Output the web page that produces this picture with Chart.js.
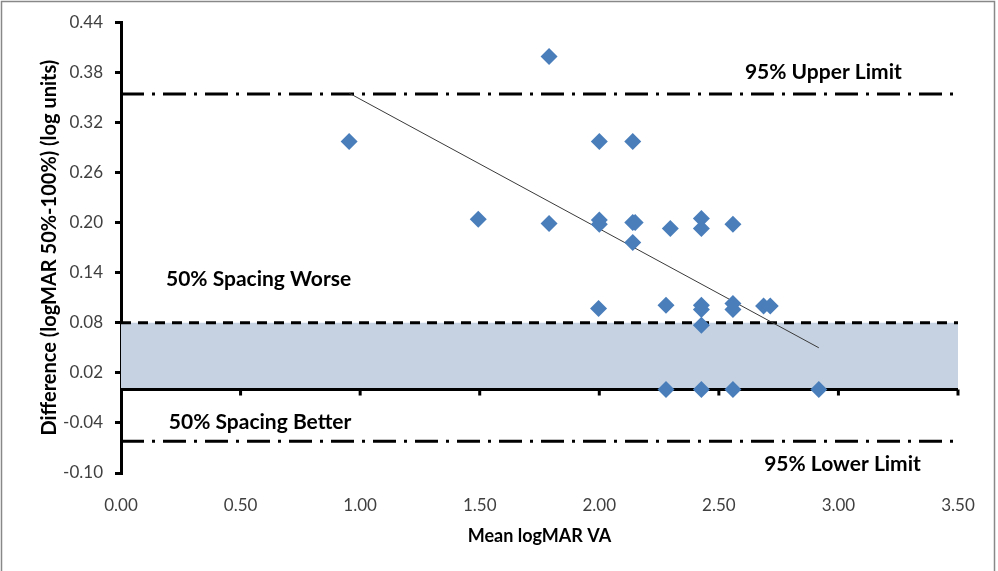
<!DOCTYPE html>
<html>
<head>
<meta charset="utf-8">
<script src="https://cdn.jsdelivr.net/npm/chart.js@4/dist/chart.umd.min.js"></script>
<style>
  html, body { margin: 0; padding: 0; background: #fff; }
  #wrap { width: 998px; height: 571px; }
</style>
</head>
<body>
<div id="wrap"><canvas id="ba-chart" width="998" height="571"></canvas></div>
<script>
// Bland-Altman data: mean of the two logMAR readings vs. their difference
const meanVA = [0.954, 1.79, 1.494, 1.79, 2.0, 2.0, 2.0, 2.14, 2.14, 2.15, 2.14, 2.297, 2.427, 2.427,
  2.559, 1.997, 2.279, 2.427, 2.427, 2.427, 2.559, 2.559, 2.687, 2.715, 2.279, 2.427, 2.559, 2.918];
const diffVA = [0.297, 0.399, 0.204, 0.199, 0.297, 0.203, 0.198, 0.297, 0.200, 0.200, 0.176, 0.193, 0.205, 0.193,
  0.198, 0.097, 0.101, 0.101, 0.096, 0.077, 0.103, 0.096, 0.100, 0.100, 0.000, 0.000, 0.000, 0.000];

// trend line end points
const trendX = [0.954, 2.918];
const trendY = [0.355, 0.050];

// limits of agreement and the spacing threshold
const upperLimit = 0.354;
const lowerLimit = -0.062;
const spacingCut = 0.08;

// text notes on the plot (value coordinates)
const noteText = ['95% Upper Limit', '50% Spacing Worse', '50% Spacing Better', '95% Lower Limit'];
const noteX = [2.937, 0.188, 0.20, 3.017];
const noteY = [0.380, 0.132, -0.039, -0.089];
const noteAlign = ['center', 'left', 'left', 'center'];

const FONT = 'Lato, "Open Sans", sans-serif';

function hLine(yVal) {
  return [{ x: 0, y: yVal }, { x: 3.5, y: yVal }];
}

const overlayPlugin = {
  id: 'overlay',
  beforeDraw(chart) {
    const ctx = chart.ctx;
    ctx.save();
    ctx.fillStyle = '#fff';
    ctx.fillRect(0, 0, chart.width, chart.height);
    ctx.restore();
  },
  afterDraw(chart) {
    const { ctx, scales: { x, y } } = chart;
    ctx.save();
    // small tick marks hanging below the zero line
    const y0 = y.getPixelForValue(0);
    ctx.strokeStyle = '#000';
    ctx.lineWidth = 3;
    x.ticks.forEach((t) => {
      if (t.value === 0) return;
      const px = x.getPixelForValue(t.value);
      ctx.beginPath();
      ctx.moveTo(px, y0);
      ctx.lineTo(px, y0 + 6);
      ctx.stroke();
    });
    // notes
    ctx.fillStyle = '#000';
    ctx.font = 'bold 21px ' + FONT;
    ctx.textBaseline = 'middle';
    noteText.forEach((txt, i) => {
      ctx.textAlign = noteAlign[i];
      ctx.fillText(txt, x.getPixelForValue(noteX[i]), y.getPixelForValue(noteY[i]));
    });
    // outer frame
    ctx.strokeStyle = '#888';
    ctx.lineWidth = 1.5;
    ctx.strokeRect(1.5, 1.5, 993, 620);
    ctx.restore();
  }
};

const ctx = document.getElementById('ba-chart').getContext('2d');

new Chart(ctx, {
  type: 'scatter',
  data: {
    datasets: [
      {
        data: meanVA.map((v, i) => ({ x: v, y: diffVA[i] })),
        pointStyle: 'rectRot',
        pointRadius: 8.5,
        backgroundColor: '#4a7ebb',
        borderColor: '#4a7ebb',
        borderWidth: 0,
        order: 0,
      },
      {
        data: trendX.map((v, i) => ({ x: v, y: trendY[i] })),
        showLine: true,
        pointRadius: 0,
        borderColor: '#3a3a3a',
        borderWidth: 1,
        order: 1,
      },
      {
        data: hLine(0),
        showLine: true,
        pointRadius: 0,
        borderColor: '#000',
        borderWidth: 3,
        order: 2,
      },
      {
        data: hLine(spacingCut),
        showLine: true,
        pointRadius: 0,
        borderColor: '#000',
        borderWidth: 3,
        borderDash: [10, 7],
        fill: 'origin',
        backgroundColor: '#c6d2e1',
        order: 3,
      },
      {
        data: hLine(upperLimit),
        showLine: true,
        pointRadius: 0,
        borderColor: '#000',
        borderWidth: 3,
        borderDash: [23, 8, 3, 8],
        order: 4,
      },
      {
        data: hLine(lowerLimit),
        showLine: true,
        pointRadius: 0,
        borderColor: '#000',
        borderWidth: 3,
        borderDash: [23, 8, 3, 8],
        order: 4,
      },
    ],
  },
  options: {
    responsive: false,
    animation: false,
    events: [],
    layout: { padding: { top: 22, right: 40, left: 0, bottom: 0 } },
    plugins: {
      legend: { display: false },
      tooltip: { enabled: false },
    },
    scales: {
      x: {
        type: 'linear',
        min: 0,
        max: 3.5,
        border: { display: false },
        grid: { display: false, drawTicks: false },
        ticks: {
          stepSize: 0.5,
          padding: 22,
          color: '#404040',
          font: { family: FONT, size: 17 },
          callback: (v) => v.toFixed(2),
        },
        title: {
          display: true,
          text: 'Mean logMAR VA',
          color: '#000',
          font: { family: FONT, size: 18, weight: 'bold' },
          padding: { top: 0, bottom: 24 },
        },
        afterFit: (scale) => { scale.height = 98; },
      },
      y: {
        type: 'linear',
        min: -0.10,
        max: 0.44,
        border: { display: true, color: '#000', width: 3 },
        grid: { drawOnChartArea: false, drawTicks: true, tickLength: 6, lineWidth: 3, color: '#000' },
        ticks: {
          stepSize: 0.06,
          padding: 12,
          color: '#404040',
          font: { family: FONT, size: 17 },
          callback: (v) => v.toFixed(2),
        },
        title: {
          display: true,
          text: 'Difference (logMAR 50%-100%) (log units)',
          color: '#000',
          font: { family: FONT, size: 20, weight: 'bold' },
          padding: { top: 38, bottom: 0 },
        },
        afterFit: (scale) => { scale.width = 121; },
      },
    },
  },
  plugins: [overlayPlugin],
});
</script>
</body>
</html>
